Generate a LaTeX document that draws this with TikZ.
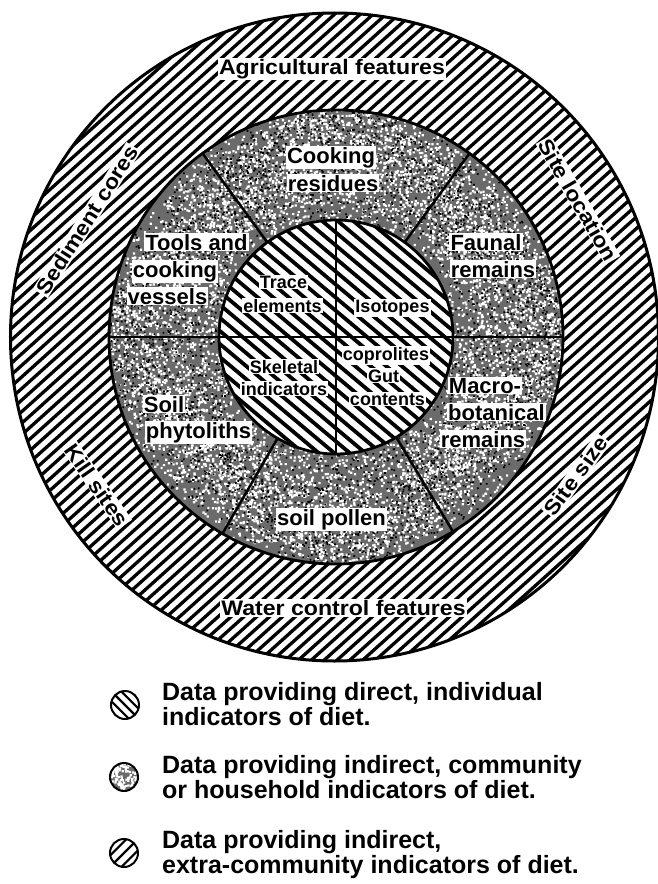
\documentclass[tikz,border=0pt]{standalone}
\usepackage{fontspec}
\setmainfont{Liberation Sans}
\usepackage{graphicx}
\newcommand\myhatch[4]{%
  \begin{scope}[rotate=#1]
    \foreach \i in {-#4,...,#4}{\draw[line width=#3] (-345,{\i*#2}) -- (345,{\i*#2});}
  \end{scope}}
\tikzset{
  midlbl/.style={font=\bfseries\fontsize{22}{24}\selectfont, inner sep=1.2pt, anchor=base, fill=white},
  inlbl/.style={font=\bfseries\fontsize{18}{20}\selectfont, inner sep=1pt, anchor=base, fill=white},
  outlbl/.style={font=\bfseries\fontsize{21}{23}\selectfont, inner sep=1pt, fill=white},
  leglbl/.style={font=\bfseries\fontsize{25}{27}\selectfont, inner sep=0pt, anchor=base west},
  ringline/.style={line width=2.8pt},
  divline/.style={line width=2.5pt},
}
\begin{document}
\begin{tikzpicture}[x=1pt,y=1pt]
\useasboundingbox (-336,-547) rectangle (322,337);
\fill[white] (-336,-547) rectangle (322,337);
% outer ring hatching
\begin{scope}
  \clip (-1.5,0) circle (324);
  \myhatch{42}{8.6}{3.3}{40}
\end{scope}
% middle ring stipple
\begin{scope}
  \clip (0,0) circle (227);
  \fill[black!58] (-230,-230) rectangle (230,230);
  \pgfmathsetseed{11}
  \foreach \j in {1,...,20}{
    \fill[white] \foreach \i in {1,...,400}{ ({360*rnd}:{10*sqrt(130+rnd*390)}) rectangle ++(2.2,2.2) };
  }
  \foreach \j in {1,...,10}{
    \fill[black] \foreach \i in {1,...,400}{ ({360*rnd}:{10*sqrt(130+rnd*390)}) rectangle ++(1.7,1.7) };
  }
\end{scope}
% inner disk hatching
\begin{scope}
  \clip (0,0) circle (117);
  \fill[white] (-120,-120) rectangle (120,120);
  \myhatch{-40}{10}{3.8}{14}
\end{scope}
% outlines
\draw[line width=3pt] (-1.5,0) circle (324);
\draw[ringline] (0,0) circle (227);
\draw[ringline] (0,0) circle (117);
\draw[divline] (180:227) -- (0:227);
\draw[divline] (90:117) -- (270:117);
\draw[divline] (54:117) -- (54:227);
\draw[divline] (126:117) -- (126:227);
\draw[divline] (240:117) -- (240:227);
\draw[divline] (301:117) -- (301:227);
% outer labels
\node[outlbl] (agri) at (-4,268) {\scalebox{1.1}[1]{Agricultural features}};
\node[outlbl] (water) at (7.5,-271) {\scalebox{1.1}[1]{Water control features}};
\node[outlbl, rotate=57.5] (sed) at (-249,117) {\scalebox{1.1}[1]{Sediment cores}};
\node[outlbl, rotate=-60] (sloc) at (242,137) {\scalebox{1.1}[1]{Site location}};
\node[outlbl, rotate=54] (ssize) at (240,-139) {\scalebox{1.1}[1]{Site size}};
\node[outlbl, rotate=-55] (kill) at (-239,-148) {\scalebox{1.1}[1]{Kill sites}};
% middle labels
\node[midlbl] (cook1) at (-5,174) {Cooking};
\node[midlbl] (cook2) at (-3,146) {residues};
\node[midlbl] (faun1) at (150,87) {Faunal};
\node[midlbl] (faun2) at (157,60) {remains};
\node[midlbl] (tool1) at (-139.5,87) {Tools and};
\node[midlbl] (tool2) at (-161,60) {cooking};
\node[midlbl] (tool3) at (-168.5,33) {vessels};
\node[midlbl] (soil1) at (-172,-75) {Soil};
\node[midlbl] (soil2) at (-137.5,-101) {phytoliths};
\node[midlbl] (poll) at (-4.5,-188) {soil pollen};
\node[midlbl] (mac1) at (149,-56) {Macro-};
\node[midlbl] (mac2) at (160.5,-83) {botanical};
\node[midlbl] (mac3) at (147,-110) {remains};
% inner labels
\node[inlbl] (tr1) at (-52.5,49) {Trace};
\node[inlbl] (tr2) at (-53.5,25) {elements};
\node[inlbl] (iso) at (56.5,25) {Isotopes};
\node[inlbl] (sk1) at (-52,-36) {Skeletal};
\node[inlbl] (sk2) at (-52,-58) {indicators};
\node[inlbl] (cop1) at (50,-23) {coprolites};
\node[inlbl] (cop2) at (47.5,-45) {Gut};
\node[inlbl] (cop3) at (51.5,-68) {contents};
% legend icons
\begin{scope}
  \clip (-211,-368) circle (14);
  \begin{scope}[shift={(-211,-368)}]\myhatch{-45}{7}{2.2}{3}\end{scope}
\end{scope}
\draw[line width=2pt] (-211,-368) circle (14);
\begin{scope}
  \clip (-212,-440) circle (14);
  \fill[black!58] (-212,-440) circle (14);
  \pgfmathsetseed{5}
  \begin{scope}[shift={(-212,-440)}]
    \fill[white] \foreach \i in {1,...,100}{ ({360*rnd}:{15*sqrt(rnd)}) rectangle ++(2.2,2.2) };
  \end{scope}
\end{scope}
\draw[line width=2pt] (-212,-440) circle (14);
\begin{scope}
  \clip (-212,-516) circle (14);
  \begin{scope}[shift={(-212,-516)}]\myhatch{45}{8}{2.2}{3}\end{scope}
\end{scope}
\draw[line width=2pt] (-212,-516) circle (14);
% legend text
\node[leglbl] (l1a) at (-174,-363) {Data providing direct, individual};
\node[leglbl] (l1b) at (-174,-388) {indicators of diet.};
\node[leglbl] (l2a) at (-174,-436) {Data providing indirect, community};
\node[leglbl] (l2b) at (-174,-461) {or household indicators of diet.};
\node[leglbl] (l3a) at (-174,-511) {Data providing indirect,};
\node[leglbl] (l3b) at (-174,-536) {extra-community indicators of diet.};
\end{tikzpicture}
\end{document}
